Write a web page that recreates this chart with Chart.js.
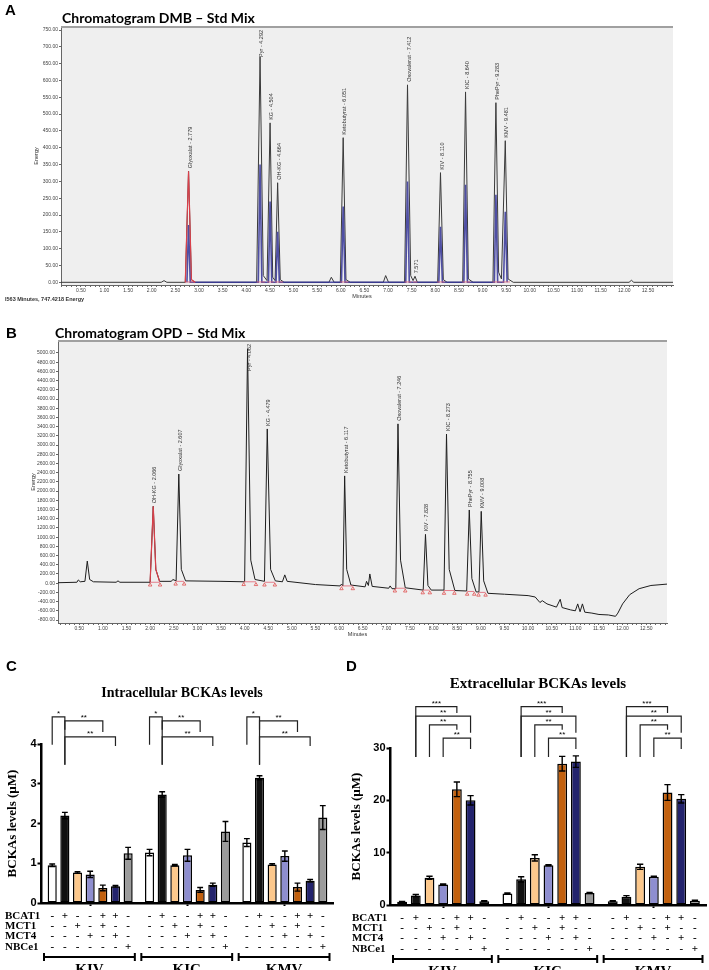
<!DOCTYPE html>
<html>
<head>
<meta charset="utf-8">
<script src="https://cdn.jsdelivr.net/npm/chart.js@4.4.1/dist/chart.umd.min.js"></script>
<style>
  body { margin: 0; background: #fff; width: 709px; height: 970px; position: relative; overflow: hidden; }
  .box { position: absolute; }
  .letter { position: absolute; font: bold 15px "Liberation Sans", Arial, sans-serif; line-height: 1; }
  .ctitle { position: absolute; font: bold 14px Lato, "Open Sans", sans-serif; line-height: 1; white-space: nowrap; }
  .btitle { position: absolute; font: bold 14px "Liberation Serif", serif; line-height: 1; white-space: nowrap; transform: translateX(-50%); }
</style>
</head>
<body>
<div class="box" style="left:0;top:0;width:709px;height:310px"><canvas id="chartA"></canvas></div>
<div class="box" style="left:0;top:310px;width:709px;height:330px"><canvas id="chartB"></canvas></div>
<div class="box" style="left:0;top:640px;width:350px;height:330px"><canvas id="chartC"></canvas></div>
<div class="box" style="left:350px;top:640px;width:359px;height:330px"><canvas id="chartD"></canvas></div>

<div class="letter" style="left:5px;top:2px">A</div>
<div class="ctitle" style="left:62px;top:11px">Chromatogram DMB – Std Mix</div>
<div class="letter" style="left:6px;top:325px">B</div>
<div class="ctitle" style="left:55px;top:326px">Chromatogram OPD – Std Mix</div>
<div class="letter" style="left:6px;top:658px">C</div>
<div class="btitle" style="left:182px;top:686px">Intracellular BCKAs levels</div>
<div class="letter" style="left:346px;top:658px">D</div>
<div class="btitle" style="left:538px;top:676px;font-size:15px">Extracellular BCKAs levels</div>

<script>
// ---- Panel A: DMB chromatogram (retention time in min, energy) ----
const dmbTime = [0.08, 2.20, 2.26, 2.32, 2.71, 2.779, 2.84, 2.92, 4.22, 4.292, 4.36, 4.44, 4.504, 4.56, 4.61,
  4.664, 4.72, 4.80, 5.75, 5.80, 5.86, 5.99, 6.051, 6.11, 6.20, 6.90, 6.95, 7.01, 7.35, 7.412, 7.48, 7.53,
  7.571, 7.62, 8.05, 8.110, 8.17, 8.25, 8.58, 8.640, 8.70, 8.80, 9.22, 9.283, 9.34, 9.40, 9.481, 9.54, 9.65,
  12.10, 12.15, 12.20, 13.03];
const dmbEnergy = [0, 0, 5, 0, 0, 330, 8, 0, 0, 670, 20, 5, 474, 15, 5,
  296, 8, 0, 0, 15, 0, 0, 430, 8, 0, 0, 20, 0, 0, 587, 20, 5,
  18, 0, 0, 326, 8, 0, 0, 566, 10, 0, 0, 534, 30, 10, 421, 10, 0,
  0, 6, 0, 0];
const dmbBlueTime = [2.745, 2.779, 2.815, 4.255, 4.292, 4.33, 4.47, 4.504, 4.54, 4.63, 4.664, 4.70, 6.015, 6.051, 6.09,
  7.375, 7.412, 7.45, 8.075, 8.110, 8.15, 8.605, 8.640, 8.68, 9.25, 9.283, 9.32, 9.445, 9.481, 9.52];
const dmbBlueEnergy = [0, 170, 0, 0, 350, 0, 0, 240, 0, 0, 150, 0, 0, 225, 0,
  0, 300, 0, 0, 165, 0, 0, 290, 0, 0, 260, 0, 0, 210, 0];
const dmbRedTime = [2.71, 2.779, 2.84, 2.92];
const dmbRedEnergy = [0, 330, 8, 0];
const dmbBaseStart = [2.70, 4.22, 4.44, 4.61, 5.99, 7.35, 7.53, 8.04, 8.57, 9.21, 9.41];
const dmbBaseEnd = [2.92, 4.40, 4.58, 4.78, 6.16, 7.50, 7.62, 8.20, 8.74, 9.38, 9.58];
const dmbBaseLevel = [1, 1, 1, 1, 1, 1, 1, 1, 1, 1, 1];
const dmbPeakNames = ['Glyoxalat', 'Pyr', 'KG', 'OH-KG', 'Ketobutyrat', 'Oxovalerat', '', 'KIV', 'KIC', 'PhePyr', 'KMV'];
const dmbPeakTimes = [2.779, 4.292, 4.504, 4.664, 6.051, 7.412, 7.571, 8.110, 8.640, 9.283, 9.481];
const dmbPeakHeights = [330, 670, 474, 296, 430, 587, 18, 326, 566, 534, 421];

// ---- Panel B: OPD chromatogram ----
const opdTime = [0.05, 0.45, 0.48, 0.52, 0.62, 0.67, 0.72, 0.80, 1.28, 1.32, 1.36, 2.00, 2.066, 2.12, 2.20,
  2.45, 2.48, 2.55, 2.607, 2.66, 2.75, 3.50, 4.00, 4.062, 4.13, 4.22, 4.42, 4.479, 4.55, 4.65, 4.80, 4.85,
  4.90, 5.50, 6.02, 6.05, 6.08, 6.117, 6.16, 6.25, 6.55, 6.58, 6.62, 6.65, 6.70, 7.05, 7.08, 7.12, 7.20,
  7.246, 7.30, 7.40, 7.78, 7.828, 7.88, 7.95, 8.22, 8.273, 8.33, 8.45, 8.70, 8.755, 8.81, 8.90, 8.96, 9.008,
  9.06, 9.15, 9.50, 10.00, 10.15, 10.25, 10.30, 10.40, 10.60, 10.68, 10.72, 10.90, 11.00, 11.05, 11.10,
  11.15, 11.20, 11.35, 11.50, 11.70, 11.85, 11.90, 12.00, 12.15, 12.35, 12.60, 12.94];
const opdEnergy = [10, 20, 70, 30, 40, 480, 80, 30, 20, 50, 20, 20, 1670, 300, 40,
  40, 80, 50, 2370, 300, 50, 40, 30, 5090, 500, 80, 40, 3350, 300, 50, 30, 180,
  40, -30, -60, -20, -60, 2330, 300, -40, -80, 40, -50, 200, -70, -110, -60, -120, -120,
  3460, 500, -100, -150, 1060, -50, -150, -150, 3240, 300, -160, -170, 1590, 100, -190, -190, 1560,
  50, -220, -240, -270, -300, -420, -380, -450, -520, -350, -530, -580, -600, -450, -620,
  -450, -630, -650, -680, -690, -720, -650, -450, -250, -120, -50, -20];
const opdRedTime = [2.00, 2.066, 2.12, 2.20];
const opdRedEnergy = [20, 1670, 300, 40];
const opdBaseStart = [2.00, 2.54, 3.98, 4.42, 6.05, 7.18, 7.77, 8.22, 8.71, 8.95];
const opdBaseEnd = [2.21, 2.72, 4.24, 4.64, 6.29, 7.40, 7.92, 8.44, 8.86, 9.10];
const opdBaseLevel = [20, 40, 30, 20, -60, -110, -150, -160, -180, -200];
const opdPeakNames = ['OH-KG', 'Glyoxalat', 'Pyr', 'KG', 'Ketobutyrat', 'Oxovalerat', 'KIV', 'KIC', 'PhePyr', 'KMV'];
const opdPeakTimes = [2.066, 2.607, 4.062, 4.479, 6.117, 7.246, 7.828, 8.273, 8.755, 9.008];
const opdPeakHeights = [1670, 2370, 5090, 3350, 2330, 3460, 1060, 3240, 1590, 1560];

// ---- Panels C/D: BCKA levels (µM), 7 conditions per keto acid ----
const groups = ['KIV', 'KIC', 'KMV'];
const conditions = ['Control', 'BCAT1', 'MCT1', 'MCT4', 'BCAT1+MCT1', 'BCAT1+MCT4', 'NBCe1'];
const barColors = ['#ffffff', '#111111', '#fcc88c', '#8e8ecf', '#c2610f', '#23236d', '#9b9b9b'];
const rowNames = ['BCAT1', 'MCT1', 'MCT4', 'NBCe1'];
const rowBCAT1 = ['-', '+', '-', '-', '+', '+', '-'];
const rowMCT1 = ['-', '-', '+', '-', '+', '-', '-'];
const rowMCT4 = ['-', '-', '-', '+', '-', '+', '-'];
const rowNBCe1 = ['-', '-', '-', '-', '-', '-', '+'];

const intraKIV = [0.95, 2.20, 0.77, 0.72, 0.38, 0.42, 1.25];
const intraKIC = [1.27, 2.73, 0.95, 1.20, 0.33, 0.46, 1.80];
const intraKMV = [1.52, 3.15, 0.97, 1.18, 0.40, 0.56, 2.15];
const intraKIVErr = [0.03, 0.08, 0.02, 0.08, 0.07, 0.02, 0.15];
const intraKICErr = [0.08, 0.07, 0.02, 0.15, 0.06, 0.04, 0.25];
const intraKMVErr = [0.10, 0.05, 0.02, 0.13, 0.10, 0.03, 0.30];

const extraKIV = [0.6, 1.8, 5.2, 3.9, 22.1, 20.0, 0.7];
const extraKIC = [2.2, 4.9, 9.0, 7.6, 27.0, 27.4, 2.3];
const extraKMV = [0.7, 1.6, 7.3, 5.4, 21.5, 20.3, 0.8];
const extraKIVErr = [0.1, 0.2, 0.3, 0.1, 1.4, 0.9, 0.1];
const extraKICErr = [0.1, 0.5, 0.6, 0.1, 1.4, 1.1, 0.1];
const extraKMVErr = [0.1, 0.2, 0.5, 0.1, 1.5, 0.8, 0.1];

// significance brackets: bars a-b, levels in axis units
const sigIntra = [
  { a: 0, b: 1, text: '*', top: 4.68, aEnd: 3.98, bEnd: 4.36 },
  { a: 1, b: 4, text: '**', top: 4.58, aEnd: 3.48, bEnd: 4.30 },
  { a: 1, b: 5, text: '**', top: 4.18, aEnd: 3.48, bEnd: 3.95 },
];
const sigExtra = [
  { a: 1, b: 4, text: '***', top: 37.9, aEnd: 28.3, bEnd: 36.7 },
  { a: 1, b: 5, text: '**', top: 36.1, aEnd: 28.3, bEnd: 32.9 },
  { a: 2, b: 4, text: '**', top: 34.4, aEnd: 28.3, bEnd: 33.5 },
  { a: 3, b: 5, text: '**', top: 31.9, aEnd: 28.3, bEnd: 29.8 },
];

Chart.defaults.animation = false;
Chart.defaults.font.family = 'Arial, "Liberation Sans", sans-serif';
Chart.defaults.plugins.legend.display = false;
Chart.defaults.plugins.tooltip.enabled = false;

function toPoints(xs, ys) {
  return xs.map((t, i) => ({ x: t, y: ys[i] }));
}
function baselinePoints(starts, ends, levels) {
  const pts = [];
  starts.forEach((s, i) => {
    pts.push({ x: s, y: levels[i] }, { x: ends[i], y: levels[i] }, { x: ends[i], y: null });
  });
  return pts;
}
function keepMultiples(step) {
  return (scale) => {
    scale.ticks = scale.ticks.filter(t => {
      const k = t.value / step;
      return Math.abs(k - Math.round(k)) < 1e-6;
    });
  };
}

function chromPlugin(cfg) {
  return {
    id: 'chrom',
    beforeDraw(chart) {
      const { ctx, chartArea: a } = chart;
      ctx.save();
      ctx.fillStyle = '#efefef';
      ctx.fillRect(a.left, a.top, a.right - a.left, a.bottom - a.top);
      ctx.restore();
    },
    afterDraw(chart) {
      const { ctx, chartArea: a, scales: { x, y } } = chart;
      ctx.save();
      ctx.strokeStyle = '#a0a0a0';
      ctx.lineWidth = 2;
      ctx.beginPath();
      ctx.moveTo(a.left, a.top);
      ctx.lineTo(a.right, a.top);
      ctx.stroke();

      // peak labels, rotated
      ctx.fillStyle = '#333';
      ctx.font = '5.5px Arial, "Liberation Sans"';
      cfg.names.forEach((n, i) => {
        const t = cfg.times[i];
        const text = n ? n + ' - ' + t.toFixed(3) : t.toFixed(3);
        const w = ctx.measureText(text).width;
        let py = y.getPixelForValue(cfg.heights[i]) - 3;
        if (py - w < a.top + 3) py = a.top + 3 + w;
        ctx.save();
        ctx.translate(x.getPixelForValue(t) + 1.5, py);
        ctx.rotate(-Math.PI / 2);
        ctx.textAlign = 'left';
        ctx.textBaseline = 'middle';
        ctx.fillText(text, 0, 0);
        ctx.restore();
      });

      // axis titles
      ctx.font = '5.5px Arial, "Liberation Sans"';
      ctx.textAlign = 'center';
      ctx.textBaseline = 'middle';
      ctx.fillText('Minutes', (a.left + a.right) / 2 - 5, a.bottom + 11);
      ctx.save();
      ctx.translate(a.left - 25, (a.top + a.bottom) / 2);
      ctx.rotate(-Math.PI / 2);
      ctx.fillText('Energy', 0, 0);
      ctx.restore();
      if (cfg.status) {
        ctx.textAlign = 'left';
        ctx.font = 'bold 5.5px Arial, "Liberation Sans"';
        ctx.fillText(cfg.status, 5, a.bottom + 14);
      }
      ctx.restore();
    }
  };
}

function chromatogram(id, cfg) {
  const datasets = [
    { data: toPoints(cfg.markT || [], cfg.markE || []), showLine: false, pointRadius: 2, pointStyle: 'triangle',
      pointBorderColor: '#e05050', pointBackgroundColor: 'rgba(0,0,0,0)', pointBorderWidth: 0.8, order: 0 },
    { data: toPoints(cfg.redT, cfg.redE), borderColor: '#d9404a', borderWidth: 1.2, order: 1 },
    { data: cfg.base, borderColor: '#e06070', borderWidth: 0.8, order: 1 },
    { data: toPoints(cfg.blueT || [], cfg.blueE || []), borderColor: 'rgba(50,50,150,0.85)', borderWidth: 1.6, order: 2 },
    { data: toPoints(cfg.time, cfg.energy), borderColor: cfg.lineColor, borderWidth: 1, order: 3 },
  ];
  return new Chart(document.getElementById(id), {
    type: 'line',
    data: { datasets },
    options: {
      responsive: true,
      maintainAspectRatio: false,
      layout: { padding: cfg.padding },
      elements: { point: { radius: 0 }, line: { tension: 0 } },
      spanGaps: false,
      scales: {
        x: {
          type: 'linear', min: cfg.xMin, max: cfg.xMax,
          afterFit: s => { s.height = 12; },
          afterBuildTicks: keepMultiples(0.1),
          ticks: {
            stepSize: 0.1, maxTicksLimit: 300, autoSkip: false, includeBounds: false, maxRotation: 0, minRotation: 0,
            font: { size: 5 }, color: '#444', padding: 1,
            callback: v => (Math.round(v * 10) % 5 === 0 && v > 0.3 && v < 12.8) ? v.toFixed(2) : ''
          },
          grid: { drawOnChartArea: false, tickLength: 2, color: '#666' },
          border: { color: '#666' }
        },
        y: {
          min: cfg.yMin, max: cfg.yMax,
          afterFit: s => { s.width = cfg.yWidth; },
          afterBuildTicks: s => {
            keepMultiples(cfg.yStep)(s);
            s.ticks = s.ticks.filter(t => t.value <= cfg.yTop);
          },
          ticks: { stepSize: cfg.yStep, maxTicksLimit: 300, autoSkip: false, includeBounds: false,
            font: { size: 5 }, color: '#444', padding: 1, callback: v => v.toFixed(2) },
          grid: { drawOnChartArea: false, tickLength: 2, color: '#666' },
          border: { color: '#666' }
        }
      }
    },
    plugins: [chromPlugin(cfg)]
  });
}

chromatogram('chartA', {
  time: dmbTime, energy: dmbEnergy, blueT: dmbBlueTime, blueE: dmbBlueEnergy,
  redT: dmbRedTime, redE: dmbRedEnergy, base: baselinePoints(dmbBaseStart, dmbBaseEnd, dmbBaseLevel),
  names: dmbPeakNames, times: dmbPeakTimes, heights: dmbPeakHeights,
  lineColor: '#3a3a3a', xMin: 0.08, xMax: 13.03, yMin: -8, yMax: 759, yStep: 50, yTop: 750, yWidth: 61,
  padding: { left: 0, right: 36, top: 27, bottom: 13 },
  status: 'I563 Minutes, 747.4218 Energy'
});

const opdMarkT = [], opdMarkE = [];
opdBaseStart.forEach((s, i) => {
  opdMarkT.push(s, opdBaseEnd[i]);
  opdMarkE.push(opdBaseLevel[i] - 60, opdBaseLevel[i] - 60);
});

chromatogram('chartB', {
  time: opdTime, energy: opdEnergy,
  redT: opdRedTime, redE: opdRedEnergy, base: baselinePoints(opdBaseStart, opdBaseEnd, opdBaseLevel),
  markT: opdMarkT, markE: opdMarkE,
  names: opdPeakNames, times: opdPeakTimes, heights: opdPeakHeights,
  lineColor: '#1e1e1e', xMin: 0.05, xMax: 12.94, yMin: -865, yMax: 5260, yStep: 200, yTop: 5000, yWidth: 58,
  padding: { left: 0, right: 42, top: 31, bottom: 5 }
});

// ---- bar panels ----
function barPlugin(cfg) {
  return {
    id: 'bcka',
    afterDraw(chart) {
      const { ctx, chartArea: a, scales: { y } } = chart;
      const metas = chart.data.datasets.map((d, i) => chart.getDatasetMeta(i));
      ctx.save();
      ctx.strokeStyle = '#000';
      ctx.fillStyle = '#000';

      // error bars (mean ± SEM)
      ctx.lineWidth = 1.4;
      cfg.means.forEach((m, g) => {
        m.forEach((v, c) => {
          const bar = metas[c].data[g];
          const e = cfg.errs[g][c];
          const yt = y.getPixelForValue(v + e), yb = y.getPixelForValue(Math.max(0, v - e));
          const hw = bar.width * 0.32;
          ctx.beginPath();
          ctx.moveTo(bar.x, yb); ctx.lineTo(bar.x, yt);
          ctx.moveTo(bar.x - hw, yt); ctx.lineTo(bar.x + hw, yt);
          ctx.moveTo(bar.x - hw, yb); ctx.lineTo(bar.x + hw, yb);
          ctx.stroke();
        });
      });

      // significance brackets
      ctx.lineWidth = 1.2;
      ctx.strokeStyle = '#222';
      ctx.font = '8px Arial, "Liberation Sans"';
      ctx.textAlign = 'center';
      ctx.textBaseline = 'bottom';
      groups.forEach((grp, g) => {
        cfg.sig.forEach(s => {
          const xa = metas[s.a].data[g].x, xb = metas[s.b].data[g].x;
          const yt = y.getPixelForValue(s.top);
          ctx.beginPath();
          ctx.moveTo(xa, y.getPixelForValue(s.aEnd));
          ctx.lineTo(xa, yt);
          ctx.lineTo(xb, yt);
          ctx.lineTo(xb, y.getPixelForValue(s.bEnd));
          ctx.stroke();
          ctx.fillText(s.text, (xa + xb) / 2, yt + 1);
        });
      });

      // y title
      ctx.font = 'bold 13px "Liberation Serif", serif';
      ctx.textBaseline = 'middle';
      ctx.save();
      ctx.translate(cfg.titleX, (a.top + a.bottom) / 2);
      ctx.rotate(-Math.PI / 2);
      ctx.fillText('BCKAs levels (\u00b5M)', 0, 0);
      ctx.restore();

      // condition table
      const rows = [rowBCAT1, rowMCT1, rowMCT4, rowNBCe1];
      rows.forEach((row, r) => {
        const yy = a.bottom + 13 + r * 10.3;
        ctx.font = 'bold 11px "Liberation Serif", serif';
        ctx.textAlign = 'left';
        ctx.fillText(rowNames[r], cfg.rowX, yy);
        ctx.textAlign = 'center';
        groups.forEach((grp, g) => {
          row.forEach((sign, c) => ctx.fillText(sign, metas[c].data[g].x, yy));
        });
      });

      // group brackets and names
      const x = chart.scales.x;
      const half = (x.getPixelForValue(1) - x.getPixelForValue(0)) / 2;
      const yb = a.bottom + 54;
      ctx.lineWidth = 2;
      ctx.strokeStyle = '#000';
      ctx.font = 'bold 15px "Liberation Serif", serif';
      ctx.textBaseline = 'top';
      groups.forEach((grp, g) => {
        const cx = x.getPixelForValue(g);
        const l = cx - half + 2.5, r = cx + half - 4;
        ctx.beginPath();
        ctx.moveTo(l, yb); ctx.lineTo(r, yb);
        ctx.moveTo(l, yb - 4); ctx.lineTo(l, yb + 4);
        ctx.moveTo(r, yb - 4); ctx.lineTo(r, yb + 4);
        ctx.stroke();
        ctx.fillText(grp, (l + r) / 2, yb + 6);
      });
      ctx.restore();
    }
  };
}

function barPanel(id, cfg) {
  const datasets = conditions.map((c, ci) => ({
    label: c,
    data: cfg.means.map(m => m[ci]),
    backgroundColor: barColors[ci],
    borderColor: '#000',
    borderWidth: 1.5,
    borderSkipped: false,
    categoryPercentage: 0.91,
    barPercentage: 0.72
  }));
  return new Chart(document.getElementById(id), {
    type: 'bar',
    data: { labels: groups, datasets },
    options: {
      responsive: true,
      maintainAspectRatio: false,
      layout: { padding: cfg.padding },
      scales: {
        x: {
          afterFit: s => { s.height = 6; },
          ticks: { display: false },
          grid: { offset: false, drawOnChartArea: false, tickLength: 3, tickWidth: 2, tickColor: '#000' },
          border: { color: '#000', width: 2.5 }
        },
        y: {
          min: 0, max: cfg.yMax,
          afterFit: s => { s.width = cfg.yWidth; },
          ticks: { stepSize: cfg.yStep, color: '#000', font: { size: 11, weight: 'bold' }, padding: 1 },
          grid: { drawOnChartArea: false, tickLength: 4, tickWidth: 2, tickColor: '#000' },
          border: { color: '#000', width: 2.5 }
        }
      }
    },
    plugins: [barPlugin(cfg)]
  });
}

barPanel('chartC', {
  means: [intraKIV, intraKIC, intraKMV],
  errs: [intraKIVErr, intraKICErr, intraKMVErr],
  sig: sigIntra, yMax: 4, yStep: 1, yWidth: 41.5, titleX: 13, rowX: 5,
  padding: { left: 0, right: 16.5, top: 104, bottom: 61 }
});

barPanel('chartD', {
  means: [extraKIV, extraKIC, extraKMV],
  errs: [extraKIVErr, extraKICErr, extraKMVErr],
  sig: sigExtra, yMax: 30, yStep: 10, yWidth: 40.5, titleX: 7, rowX: 2,
  padding: { left: 0, right: 2.5, top: 108, bottom: 59 }
});
</script>
</body>
</html>
